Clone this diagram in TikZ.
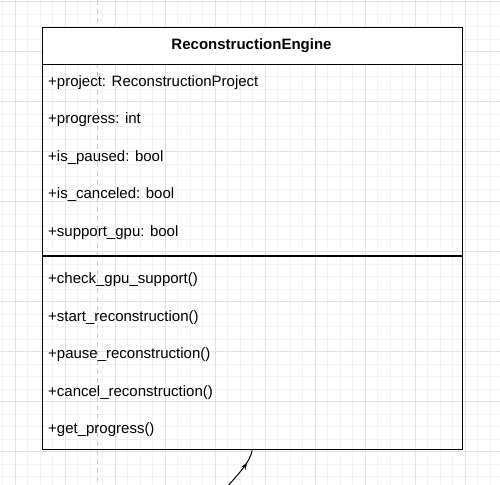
\documentclass[tikz,border=0pt]{standalone}
\usepackage{fontspec}
\setmainfont{Liberation Sans}
\usetikzlibrary{decorations.markings,arrows.meta}
\definecolor{gridminor}{HTML}{F2F2F2}
\definecolor{gridmajor}{HTML}{E2E2E2}
\definecolor{guide}{HTML}{C8C8C8}
\tikzset{
  minorline/.style={draw=gridminor, line width=0.8bp},
  majorline/.style={draw=gridmajor, line width=0.9bp},
  guideline/.style={draw=guide, line width=1.4bp, dash pattern=on 5bp off 4bp},
  classbox/.style={draw=black, line width=1.3bp, rectangle, inner sep=0pt},
  headbox/.style={draw=black, line width=1.3bp, fill=white, rectangle, inner sep=0pt},
  member/.style={anchor=base west, inner sep=0pt, font=\fontsize{15bp}{18bp}\selectfont},
  title/.style={anchor=base, inner sep=0pt, font=\fontsize{15bp}{18bp}\selectfont\bfseries},
  divider/.style={draw=black, line width=1.3bp},
  linkline/.style={draw=black, line width=1bp,
    postaction={decorate, decoration={markings, mark=at position 0.7 with {\arrow[line width=1bp]{Stealth[length=7bp,width=5bp,open]}}}}}
}
\begin{document}
\begin{tikzpicture}[x=1bp, y=-1bp]
\useasboundingbox (0,0) rectangle (500,485);
% grid
\foreach \i in {0,...,39} {\draw[minorline] (2.5+12.5*\i,0) -- (2.5+12.5*\i,485);}
\foreach \i in {0,...,38} {\draw[minorline] (0,1.7+12.5*\i) -- (500,1.7+12.5*\i);}
\foreach \i in {0,...,9} {\draw[majorline] (15+50*\i,0) -- (15+50*\i,485);}
\foreach \i in {0,...,9} {\draw[majorline] (0,1.7+50*\i) -- (500,1.7+50*\i);}
% guide
\draw[guideline] (97.5,0) -- (97.5,485);
% class box
\node[classbox, minimum width=420bp, minimum height=422bp, anchor=north west] (cls) at (41.5,27) {};
\node[headbox, minimum width=420bp, minimum height=36.7bp, anchor=north west] (head) at (41.5,27) {};
\node[title] (tname) at (251.5,49.5) {ReconstructionEngine};
\coordinate (divl) at (41.5,256);
\coordinate (divr) at (461.5,256);
\draw[divider] (divl) -- (divr);
\node[member] (a1) at (48,86.5) {+project: ReconstructionProject};
\node[member] (a2) at (48,124) {+progress: int};
\node[member] (a3) at (48,161.5) {+is\_paused: bool};
\node[member] (a4) at (48,199) {+is\_canceled: bool};
\node[member] (a5) at (48,236.5) {+support\_gpu: bool};
\node[member] (m1) at (48,283.5) {+check\_gpu\_support()};
\node[member] (m2) at (48,321) {+start\_reconstruction()};
\node[member] (m3) at (48,358.5) {+pause\_reconstruction()};
\node[member] (m4) at (48,396) {+cancel\_reconstruction()};
\node[member] (m5) at (48,433.5) {+get\_progress()};
% connector
\coordinate (src) at (227,487);
\draw[linkline] (src) .. controls (240,472) and (250,462) .. (cls.south);
\end{tikzpicture}
\end{document}
